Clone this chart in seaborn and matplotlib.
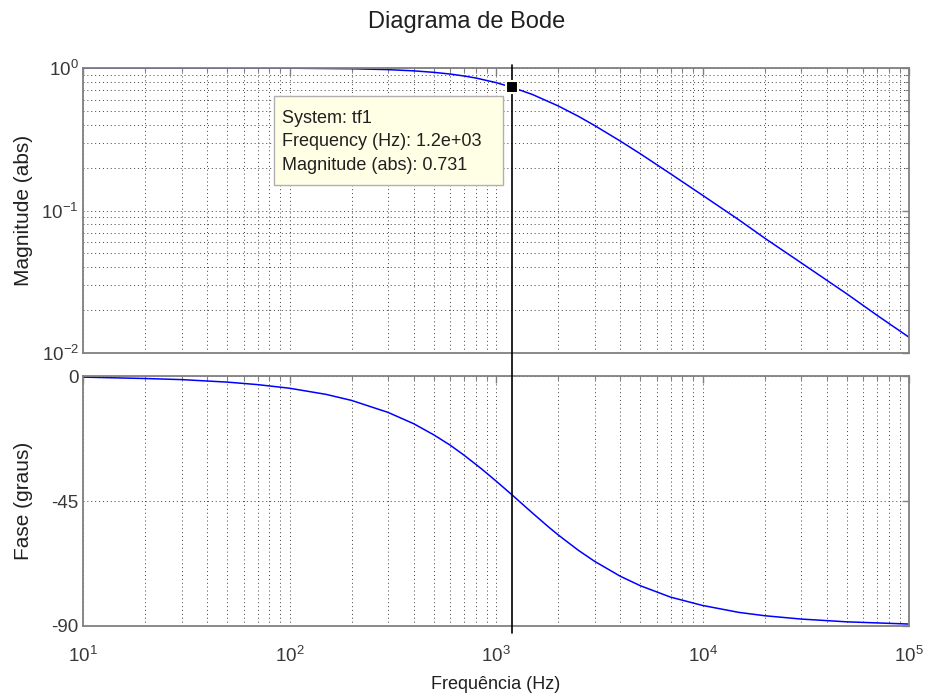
import numpy as np
import pandas as pd
import matplotlib
matplotlib.use("Agg")
import matplotlib.pyplot as plt
import matplotlib.transforms as mtransforms
from matplotlib.patches import Rectangle
from matplotlib.ticker import LogLocator, NullFormatter, FixedLocator
import seaborn as sns

# -------------------------------
# DATA
# -------------------------------
freq_mag = [10, 100, 200, 300, 400, 500, 600, 700, 800, 1000, 1200, 1500,
            2000, 2500, 3000, 4000, 5000, 7000, 10000, 15000, 20000, 30000,
            50000, 70000, 100000]
magnitude = [1.0, 0.997, 0.988, 0.974, 0.955, 0.932, 0.907, 0.879, 0.85,
             0.79, 0.731, 0.652, 0.542, 0.459, 0.395, 0.307, 0.25, 0.181,
             0.128, 0.086, 0.064, 0.043, 0.026, 0.0184, 0.0129]

freq_phase = [10, 15, 20, 30, 50, 70, 100, 150, 200, 300, 400, 500, 600,
              700, 850, 1000, 1200, 1500, 1800, 2000, 2500, 3000, 4000, 5000,
              7000, 10000, 15000, 20000, 30000, 50000, 100000]
phase = [-0.4, -0.7, -0.9, -1.3, -2.2, -3.1, -4.4, -6.6, -8.8, -13.1, -17.2,
         -21.2, -24.9, -28.5, -33.4, -37.8, -42.9, -49.3, -54.4, -57.2, -62.7,
         -66.7, -72.1, -75.5, -79.6, -82.6, -85.1, -86.3, -87.5, -88.5, -89.3]

cursor_freq = 1.2e3
cursor_mag = 0.731
tip_lines = ["System: tf1", "Frequency (Hz): 1.2e+03", "Magnitude (abs): 0.731"]

phase_ticks = [-90, -45, 0]

mag_df = pd.DataFrame({"freq": freq_mag, "mag": magnitude})
phase_df = pd.DataFrame({"freq": freq_phase, "phase": phase})

# -------------------------------
# STYLE
# -------------------------------
sns.set_theme(style="white")
plt.rcParams["font.family"] = ["Liberation Sans", "DejaVu Sans"]
plt.rcParams["axes.unicode_minus"] = False
plt.rcParams["mathtext.fontset"] = "custom"
plt.rcParams["mathtext.rm"] = "Liberation Sans"

W, H = 925, 696
fig = plt.figure(figsize=(W / 100, H / 100), dpi=100)
fig.patch.set_facecolor("white")

L, R = 83, 909
ax1 = fig.add_axes([L / W, 1 - 353 / H, (R - L) / W, (353 - 68) / H])
ax2 = fig.add_axes([L / W, 1 - 626 / H, (R - L) / W, (626 - 376) / H])
ax1.set_zorder(2)  # so the cursor line drawn in ax1 sits over ax2

grid_kw = dict(color="#404040", linestyle=(0, (1, 3)), linewidth=0.7)
txt = "#202020"

for ax in (ax1, ax2):
    ax.set_xscale("log")
    ax.set_xlim(10, 1e5)
    ax.xaxis.set_major_locator(LogLocator(base=10, numticks=10))
    ax.xaxis.set_minor_locator(LogLocator(base=10, subs=np.arange(2, 10), numticks=20))
    ax.xaxis.set_minor_formatter(NullFormatter())
    ax.tick_params(which="both", direction="in", top=True, right=True,
                   colors="#808080", labelcolor="#383838", labelsize=13.5)
    ax.tick_params(which="major", length=5, width=1)
    ax.tick_params(which="minor", length=3, width=0.8)
    ax.tick_params(axis="y", pad=3)
    for s in ax.spines.values():
        s.set_color("#808080")
        s.set_linewidth(1.3)
    ax.grid(True, which="both", **grid_kw)

# magnitude
sns.lineplot(data=mag_df, x="freq", y="mag", ax=ax1, color="#0000ff",
             linewidth=1.1, estimator=None)
ax1.set_yscale("log")
ax1.set_ylim(1e-2, 1e0)
ax1.yaxis.set_minor_locator(LogLocator(base=10, subs=np.arange(2, 10), numticks=20))
ax1.yaxis.set_minor_formatter(NullFormatter())
ax1.tick_params(axis="x", labelbottom=False)
ax1.set_xlabel("")
ax1.set_ylabel("Magnitude (abs)", fontsize=15, color=txt)
ax1.yaxis.set_label_coords(-0.06, 0.5)

# phase
sns.lineplot(data=phase_df, x="freq", y="phase", ax=ax2, color="#0000ff",
             linewidth=1.1, estimator=None)
ax2.set_ylim(-90, 0)
ax2.yaxis.set_major_locator(FixedLocator(phase_ticks))
ax2.set_yticklabels([str(t) for t in phase_ticks])
ax2.set_xlabel("Frequência (Hz)", fontsize=13, color=txt)
ax2.xaxis.set_label_coords(0.5, -0.2)
ax2.set_ylabel("Fase (graus)", fontsize=15, color=txt)
ax2.yaxis.set_label_coords(-0.06, 0.5)
ax2.tick_params(axis="x", pad=14)

# cursor line across both axes (drawn in ax1, unclipped)
trans = mtransforms.blended_transform_factory(ax1.transData, fig.transFigure)
ax1.plot([cursor_freq, cursor_freq], [1 - 65 / H, 1 - 633 / H], transform=trans,
         color="black", linewidth=1.2, zorder=6, clip_on=False)

# datatip marker and box
ax1.plot([cursor_freq], [cursor_mag], marker="s", markersize=9,
         color="black", markeredgecolor="#fffff0", markeredgewidth=1.5,
         zorder=10, clip_on=False)
ax1.add_patch(Rectangle((274 / W, 1 - 185 / H), 229 / W, 89 / H,
                        transform=fig.transFigure, facecolor="#ffffe6",
                        edgecolor="#b0b0b0", linewidth=1, zorder=11, clip_on=False))
for i, line in enumerate(tip_lines):
    ax1.text(282 / W, 1 - (123 + 23.5 * i) / H, line, transform=fig.transFigure,
             ha="left", va="baseline", fontsize=13, color=txt, zorder=12)

fig.text(467 / W, 1 - 22 / H, "Diagrama de Bode", ha="center", va="center",
         fontsize=17, color=txt)

fig.savefig("out.png", dpi=100)
